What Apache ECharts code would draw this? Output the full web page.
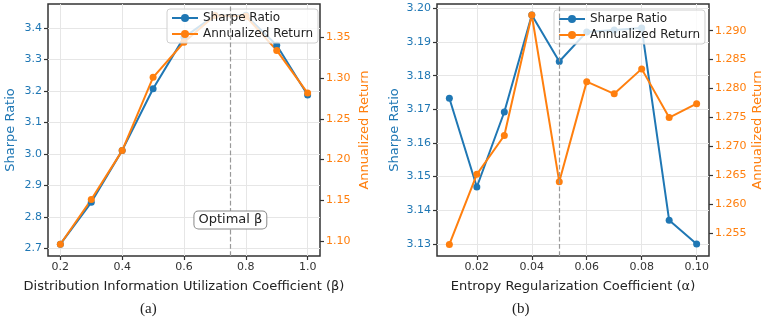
<!DOCTYPE html>
<html>
<head>
<meta charset="utf-8">
<script src="https://cdn.jsdelivr.net/npm/echarts@6/dist/echarts.min.js"></script>
<style>
  html, body { margin: 0; padding: 0; background: #fff; }
  #chart { width: 767px; height: 320px; }
</style>
</head>
<body>
<div id="chart"></div>
<script>
// (a) distribution information utilization coefficient
const betaVals = [0.2, 0.3, 0.4, 0.5, 0.6, 0.7, 0.8, 0.9, 1.0];
const sharpeA = [2.713, 2.846, 3.011, 3.207, 3.37, 3.44, 3.44, 3.345, 3.187];
const returnA = [1.096, 1.151, 1.211, 1.301, 1.344, 1.377, 1.376, 1.334, 1.2816];

// (b) entropy regularization coefficient
const alphaVals = [0.01, 0.02, 0.03, 0.04, 0.05, 0.06, 0.07, 0.08, 0.09, 0.10];
const sharpeB = [3.1733, 3.1469, 3.1692, 3.198, 3.1842, 3.193, 3.1936, 3.1942, 3.137, 3.130];
const returnB = [1.2531, 1.2652, 1.2719, 1.2927, 1.2639, 1.2812, 1.2791, 1.2834, 1.2750, 1.2774];

// tick labels
const xTicksA = [0.2, 0.4, 0.6, 0.8, 1.0];
const sharpeTicksA = [2.7, 2.8, 2.9, 3.0, 3.1, 3.2, 3.3, 3.4];
const returnTicksA = [1.10, 1.15, 1.20, 1.25, 1.30, 1.35];
const xTicksB = [0.02, 0.04, 0.06, 0.08, 0.10];
const sharpeTicksB = [3.13, 3.14, 3.15, 3.16, 3.17, 3.18, 3.19, 3.20];
const returnTicksB = [1.255, 1.260, 1.265, 1.270, 1.275, 1.280, 1.285, 1.290];

const optimalBeta = 0.75;
const optimalAlpha = 0.05;

const BLUE = '#1f77b4';
const ORANGE = '#ff7f0e';
const FONT = 'DejaVu Sans';

function xAxis(gridIndex, min, max, ticks, digits, name) {
    return {
        type: 'value', gridIndex: gridIndex, min: min, max: max,
        name: name, nameLocation: 'middle', nameGap: 24,
        nameTextStyle: { fontFamily: FONT, fontSize: 13, color: '#222' },
        axisLine: { show: false },
        axisTick: { show: true, customValues: ticks, length: 4, lineStyle: { color: '#333', width: 1.2 } },
        axisLabel: { customValues: ticks, formatter: v => v.toFixed(digits), fontFamily: FONT, fontSize: 11, color: '#333', margin: 6 },
        splitLine: { show: true, lineStyle: { color: '#e6e6e6', width: 1 } }
    };
}

function yAxis(gridIndex, pos, min, max, ticks, digits, name, color, gap, grid) {
    return {
        type: 'value', gridIndex: gridIndex, position: pos, min: min, max: max,
        name: name, nameLocation: 'middle', nameGap: gap, nameRotate: 90,
        nameTextStyle: { fontFamily: FONT, fontSize: 13, color: color },
        axisLine: { show: false },
        axisTick: { show: true, customValues: ticks, length: 4, lineStyle: { color: '#333', width: 1.2 } },
        axisLabel: { customValues: ticks, formatter: v => v.toFixed(digits), fontFamily: FONT, fontSize: 11, color: color, margin: 6 },
        splitLine: { show: grid, lineStyle: { color: '#e6e6e6', width: 1 } }
    };
}

function lineSeries(name, xs, ys, xi, yi, color) {
    return {
        name: name, type: 'line', xAxisIndex: xi, yAxisIndex: yi,
        data: xs.map((x, i) => [x, ys[i]]),
        symbol: 'circle', symbolSize: 7,
        lineStyle: { color: color, width: 2 },
        itemStyle: { color: color },
        animation: false
    };
}

function legend(left, top) {
    return {
        left: left, top: top, orient: 'vertical',
        data: ['Sharpe Ratio', 'Annualized Return'],
        backgroundColor: 'rgba(255,255,255,0.8)',
        borderColor: '#d0d0d0', borderWidth: 1, borderRadius: 3,
        padding: [3, 5, 3, 4], itemGap: 4, itemWidth: 26, itemHeight: 10,
        textStyle: { fontFamily: FONT, fontSize: 12, color: '#222' }
    };
}

const chart = echarts.init(document.getElementById('chart'));

const sA = lineSeries('Sharpe Ratio', betaVals, sharpeA, 0, 0, BLUE);
sA.markLine = {
    silent: true, symbol: 'none', label: { show: false },
    lineStyle: { type: 'dashed', color: '#999', width: 1.2 },
    data: [{ xAxis: optimalBeta }]
};
sA.markPoint = {
    symbol: 'rect', symbolSize: 0,
    data: [{ coord: [optimalBeta, 2.79] }],
    label: {
        show: true, formatter: 'Optimal β', position: 'inside',
        fontFamily: FONT, fontSize: 13, color: '#222',
        backgroundColor: '#fff', borderColor: '#888', borderWidth: 1,
        borderRadius: 4, padding: [2, 4]
    }
};

const sB = lineSeries('Sharpe Ratio', alphaVals, sharpeB, 1, 2, BLUE);
sB.markLine = {
    silent: true, symbol: 'none', label: { show: false },
    lineStyle: { type: 'dashed', color: '#999', width: 1.2 },
    data: [{ xAxis: optimalAlpha }]
};

chart.setOption({
    animation: false,
    backgroundColor: '#fff',
    grid: [
        { left: 48, top: 4, width: 272, height: 252, show: true, borderColor: '#333', borderWidth: 1.5 },
        { left: 437, top: 4, width: 272, height: 252, show: true, borderColor: '#333', borderWidth: 1.5 }
    ],
    xAxis: [
        xAxis(0, 0.16, 1.04, xTicksA, 1, 'Distribution Information Utilization Coefficient (β)'),
        xAxis(1, 0.0055, 0.1045, xTicksB, 2, 'Entropy Regularization Coefficient (α)')
    ],
    yAxis: [
        yAxis(0, 'left', 2.6755, 3.476, sharpeTicksA, 1, 'Sharpe Ratio', BLUE, 31, true),
        yAxis(0, 'right', 1.0816, 1.391, returnTicksA, 2, 'Annualized Return', ORANGE, 38, false),
        yAxis(1, 'left', 3.1264, 3.2013, sharpeTicksB, 2, 'Sharpe Ratio', BLUE, 36, true),
        yAxis(1, 'right', 1.2511, 1.2946, returnTicksB, 3, 'Annualized Return', ORANGE, 42, false)
    ],
    legend: [legend(167, 9), legend(554, 10)],
    series: [
        sA,
        lineSeries('Annualized Return', betaVals, returnA, 0, 1, ORANGE),
        sB,
        lineSeries('Annualized Return', alphaVals, returnB, 1, 3, ORANGE)
    ],
    graphic: [
        { type: 'text', left: 140, top: 302, style: { text: '(a)', font: '15px "Liberation Serif"', fill: '#222' } },
        { type: 'text', left: 512, top: 302, style: { text: '(b)', font: '15px "Liberation Serif"', fill: '#222' } }
    ]
});
</script>
</body>
</html>
